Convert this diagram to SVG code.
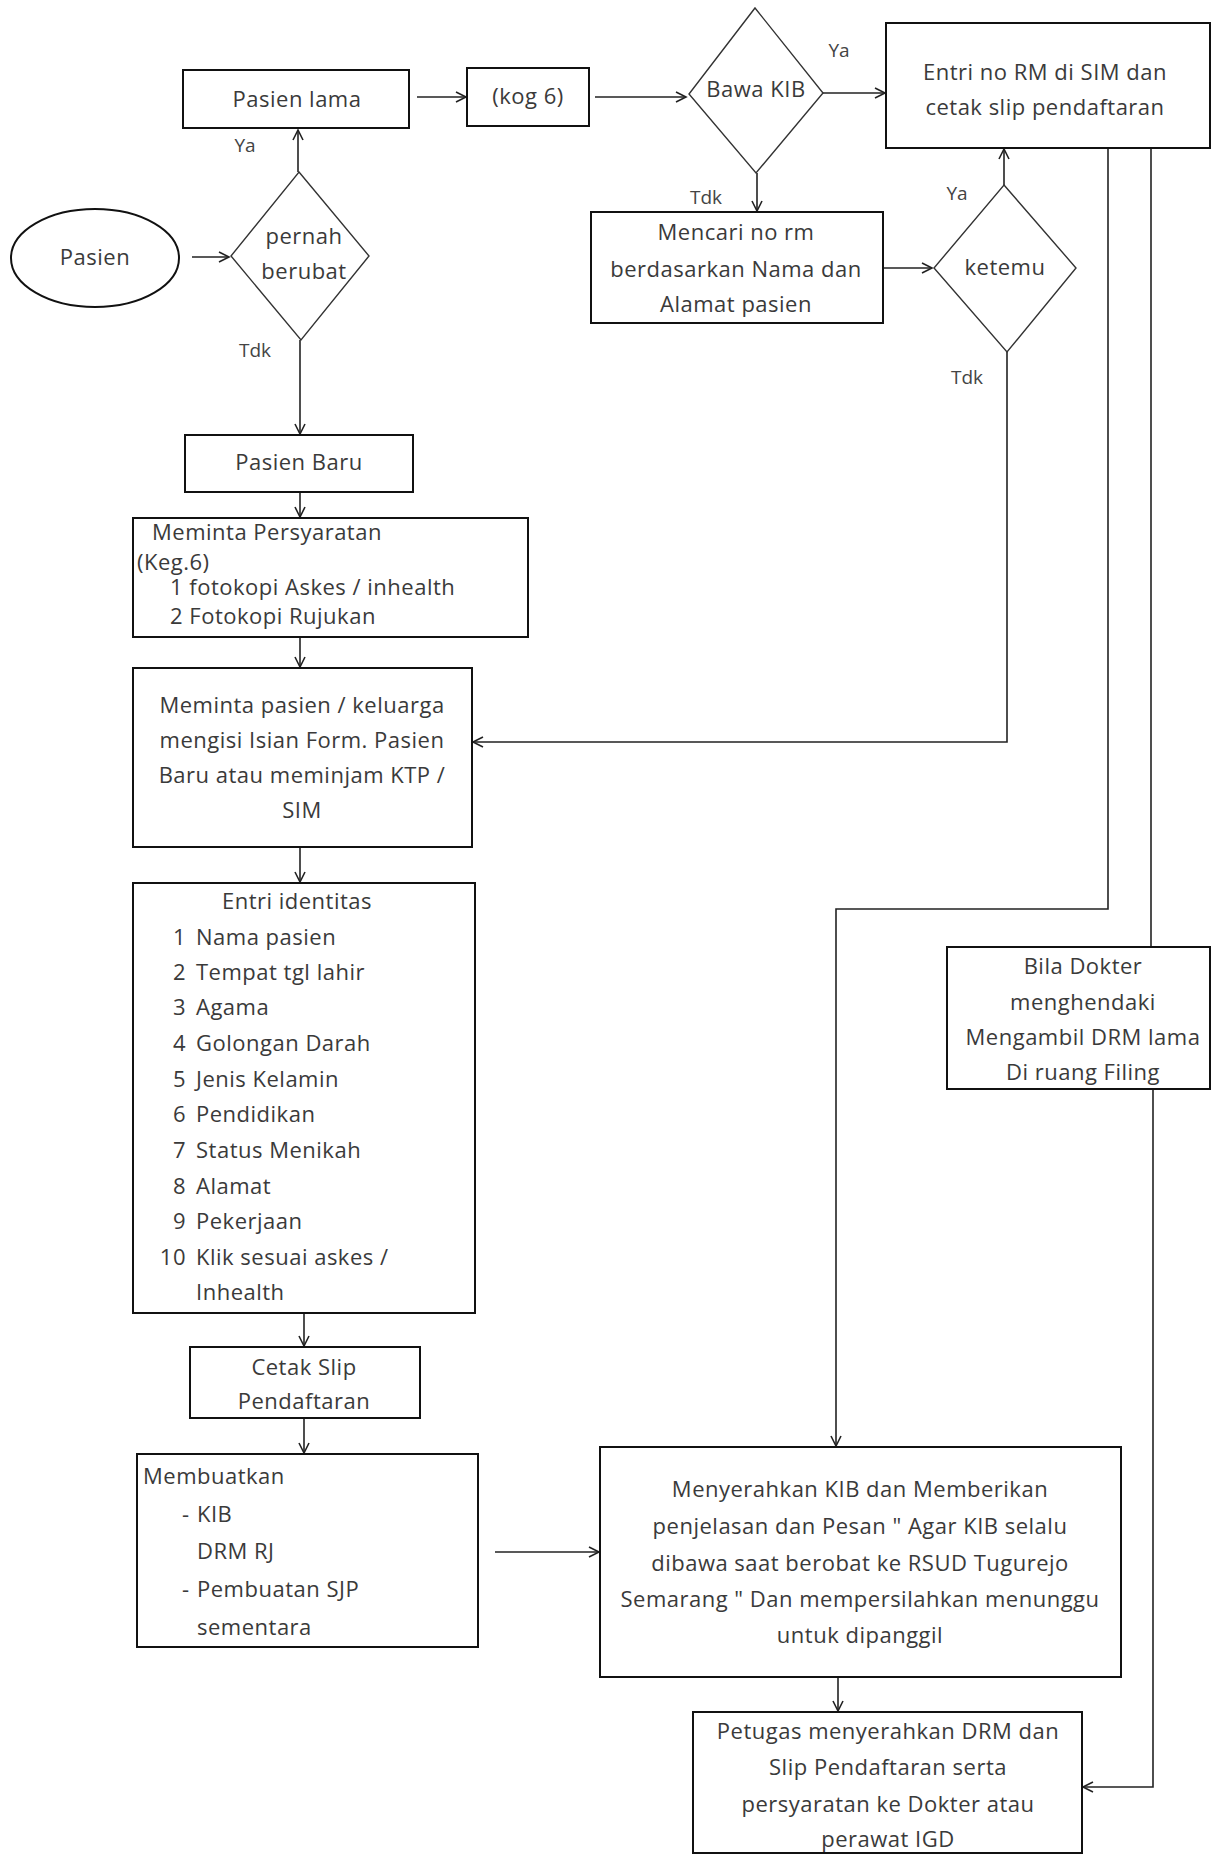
<svg xmlns="http://www.w3.org/2000/svg" width="1215" height="1856" viewBox="0 0 1215 1856">
<defs>
<style>
.box{fill:#fff;stroke:#111;stroke-width:2}
.dia{fill:#fff;stroke:#333;stroke-width:1.4}
.t{font-family:"Open Sans","DejaVu Sans",sans-serif;font-size:22px;fill:#3a3a3a;letter-spacing:0.5px}
.c{text-anchor:middle}
.lbl{font-family:"Open Sans","DejaVu Sans",sans-serif;font-size:19px;fill:#444}
.con{fill:none;stroke:#222;stroke-width:1.6}
</style>
<marker id="arr" markerUnits="userSpaceOnUse" markerWidth="14" markerHeight="14" refX="11" refY="6" orient="auto">
<path d="M1,1 L11,6 L1,11" fill="none" stroke="#222" stroke-width="1.6"/>
</marker>
</defs>
<rect width="1215" height="1856" fill="#fff"/>

<g id="connectors">
<path class="con" d="M192,257 H229" marker-end="url(#arr)"/>
<path class="con" d="M298,172 V130" marker-end="url(#arr)"/>
<path class="con" d="M300,340 V434" marker-end="url(#arr)"/>
<path class="con" d="M417,97 H466" marker-end="url(#arr)"/>
<path class="con" d="M595,97 H686" marker-end="url(#arr)"/>
<path class="con" d="M823,93 H885" marker-end="url(#arr)"/>
<path class="con" d="M757,173 V211" marker-end="url(#arr)"/>
<path class="con" d="M884,268 H932" marker-end="url(#arr)"/>
<path class="con" d="M1004,185 V149" marker-end="url(#arr)"/>
<path class="con" d="M1007,352 V742 H473" marker-end="url(#arr)"/>
<path class="con" d="M300,492 V517" marker-end="url(#arr)"/>
<path class="con" d="M300,637 V667" marker-end="url(#arr)"/>
<path class="con" d="M300,847 V882" marker-end="url(#arr)"/>
<path class="con" d="M304,1313 V1346" marker-end="url(#arr)"/>
<path class="con" d="M304,1418 V1453" marker-end="url(#arr)"/>
<path class="con" d="M495,1552 H599" marker-end="url(#arr)"/>
<path class="con" d="M1108,148 V909 H836 V1446" marker-end="url(#arr)"/>
<path class="con" d="M1151,148 V947"/>
<path class="con" d="M1153,1089 V1787 H1083" marker-end="url(#arr)"/>
<path class="con" d="M838,1677 V1711" marker-end="url(#arr)"/>
<text class="lbl" x="245" y="152" text-anchor="middle">Ya</text>
<text class="lbl" x="255" y="357" text-anchor="middle">Tdk</text>
<text class="lbl" x="839" y="57" text-anchor="middle">Ya</text>
<text class="lbl" x="706" y="204" text-anchor="middle">Tdk</text>
<text class="lbl" x="957" y="200" text-anchor="middle">Ya</text>
<text class="lbl" x="967" y="384" text-anchor="middle">Tdk</text>
</g>

<g id="pasien">
<ellipse class="box" cx="95" cy="258" rx="84" ry="49"/>
<text class="t c" x="95" y="265">Pasien</text>
</g>

<g id="pernah-berubat">
<polygon class="dia" points="299,172 369,256 301,340 231,256"/>
<text class="t c" x="304" y="244">pernah</text>
<text class="t c" x="304" y="279">berubat</text>
</g>

<g id="pasien-lama">
<rect class="box" x="183" y="70" width="226" height="58"/>
<text class="t c" x="297" y="107">Pasien lama</text>
</g>

<g id="kog6">
<rect class="box" x="467" y="68" width="122" height="58"/>
<text class="t c" x="528" y="104">(kog 6)</text>
</g>

<g id="bawa-kib">
<polygon class="dia" points="755,8 823,93 756,173 689,94"/>
<text class="t c" x="756" y="97">Bawa KIB</text>
</g>

<g id="entri-rm">
<rect class="box" x="886" y="23" width="324" height="125"/>
<text class="t c" x="1045" y="80">Entri no RM di SIM dan</text>
<text class="t c" x="1045" y="115">cetak slip pendaftaran</text>
</g>

<g id="mencari">
<rect class="box" x="591" y="212" width="292" height="111"/>
<text class="t c" x="736" y="240">Mencari no rm</text>
<text class="t c" x="736" y="277">berdasarkan Nama dan</text>
<text class="t c" x="736" y="312">Alamat pasien</text>
</g>

<g id="ketemu">
<polygon class="dia" points="1004,185 1076,268 1007,352 934,268"/>
<text class="t c" x="1005" y="275">ketemu</text>
</g>

<g id="pasien-baru">
<rect class="box" x="185" y="435" width="228" height="57"/>
<text class="t c" x="299" y="470">Pasien Baru</text>
</g>

<g id="meminta-persyaratan">
<rect class="box" x="133" y="518" width="395" height="119"/>
<text class="t" x="152" y="540">Meminta Persyaratan</text>
<text class="t" x="137" y="570">(Keg.6)</text>
<text class="t" x="170" y="595">1 fotokopi Askes / inhealth</text>
<text class="t" x="170" y="624">2 Fotokopi Rujukan</text>
</g>

<g id="meminta-pasien">
<rect class="box" x="133" y="668" width="339" height="179"/>
<text class="t c" x="302" y="713">Meminta pasien / keluarga</text>
<text class="t c" x="302" y="748">mengisi Isian Form. Pasien</text>
<text class="t c" x="302" y="783">Baru atau meminjam KTP /</text>
<text class="t c" x="302" y="818">SIM</text>
</g>

<g id="entri-identitas">
<rect class="box" x="133" y="883" width="342" height="430"/>
<text class="t c" x="297" y="909">Entri identitas</text>
<text class="t"><tspan x="186" y="945" text-anchor="end">1</tspan><tspan x="196" y="945">Nama pasien</tspan></text>
<text class="t"><tspan x="186" y="980" text-anchor="end">2</tspan><tspan x="196" y="980">Tempat tgl lahir</tspan></text>
<text class="t"><tspan x="186" y="1015" text-anchor="end">3</tspan><tspan x="196" y="1015">Agama</tspan></text>
<text class="t"><tspan x="186" y="1051" text-anchor="end">4</tspan><tspan x="196" y="1051">Golongan Darah</tspan></text>
<text class="t"><tspan x="186" y="1087" text-anchor="end">5</tspan><tspan x="196" y="1087">Jenis Kelamin</tspan></text>
<text class="t"><tspan x="186" y="1122" text-anchor="end">6</tspan><tspan x="196" y="1122">Pendidikan</tspan></text>
<text class="t"><tspan x="186" y="1158" text-anchor="end">7</tspan><tspan x="196" y="1158">Status Menikah</tspan></text>
<text class="t"><tspan x="186" y="1194" text-anchor="end">8</tspan><tspan x="196" y="1194">Alamat</tspan></text>
<text class="t"><tspan x="186" y="1229" text-anchor="end">9</tspan><tspan x="196" y="1229">Pekerjaan</tspan></text>
<text class="t"><tspan x="186" y="1265" text-anchor="end">10</tspan><tspan x="196" y="1265">Klik sesuai askes /</tspan></text>
<text class="t" x="196" y="1300">Inhealth</text>
</g>

<g id="cetak-slip">
<rect class="box" x="190" y="1347" width="230" height="71"/>
<text class="t c" x="304" y="1375">Cetak Slip</text>
<text class="t c" x="304" y="1409">Pendaftaran</text>
</g>

<g id="membuatkan">
<rect class="box" x="137" y="1454" width="341" height="193"/>
<text class="t" x="143" y="1484">Membuatkan</text>
<text class="t"><tspan x="182" y="1522">-</tspan><tspan x="197" y="1522">KIB</tspan></text>
<text class="t" x="197" y="1559">DRM RJ</text>
<text class="t"><tspan x="182" y="1597">-</tspan><tspan x="197" y="1597">Pembuatan SJP</tspan></text>
<text class="t" x="197" y="1635">sementara</text>
</g>

<g id="bila-dokter">
<rect class="box" x="947" y="947" width="263" height="142"/>
<text class="t c" x="1083" y="974">Bila Dokter</text>
<text class="t c" x="1083" y="1010">menghendaki</text>
<text class="t c" x="1083" y="1045">Mengambil DRM lama</text>
<text class="t c" x="1083" y="1080">Di ruang Filing</text>
</g>

<g id="menyerahkan">
<rect class="box" x="600" y="1447" width="521" height="230"/>
<text class="t c" x="860" y="1497">Menyerahkan KIB dan Memberikan</text>
<text class="t c" x="860" y="1534">penjelasan dan Pesan " Agar KIB selalu</text>
<text class="t c" x="860" y="1571">dibawa saat berobat ke RSUD Tugurejo</text>
<text class="t c" x="860" y="1607">Semarang " Dan mempersilahkan menunggu</text>
<text class="t c" x="860" y="1643">untuk dipanggil</text>
</g>

<g id="petugas">
<rect class="box" x="693" y="1712" width="389" height="141"/>
<text class="t c" x="888" y="1739">Petugas menyerahkan DRM dan</text>
<text class="t c" x="888" y="1775">Slip Pendaftaran serta</text>
<text class="t c" x="888" y="1812">persyaratan ke Dokter atau</text>
<text class="t c" x="888" y="1847">perawat IGD</text>
</g>
</svg>
